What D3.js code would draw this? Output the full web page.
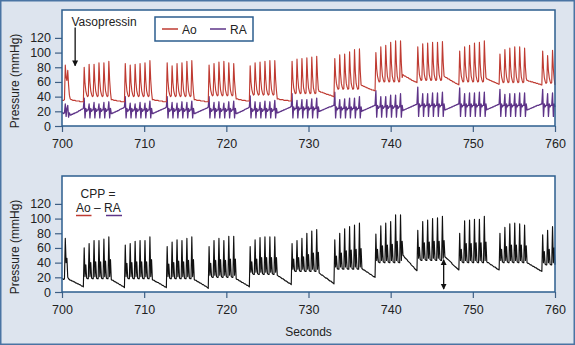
<!DOCTYPE html>
<html>
<head>
<meta charset="utf-8">
<title>Ao, RA and CPP during CPR</title>
<script src="https://d3js.org/d3.v7.min.js"></script>
<style>
  body { margin: 0; background: #fff; }
  svg { display: block; font-family: "Liberation Sans", Arial, Helvetica, sans-serif; }
</style>
</head>
<body>
<svg width="575" height="345"></svg>
<script>
// samples every 0.1 s starting at 700 s
const startTime = 700;
const sampleStep = 0.1;
const xTicks = [700, 710, 720, 730, 740, 750, 760];
const yTicks = [0, 20, 40, 60, 80, 100, 120];

// aortic pressure (mmHg)
const aoValues = [
  35,35,35,36,83,66,62,76,56,42,37, 36,36,35,35,35,35,34,34,34,34,34,33,33,33,33,33,
  80,58,48,43,40,41, 84,60,48,43,40,41, 84,60,48,43,40,41, 86,61,48,43,40,41, 86,61,48,43,40,41, 88,62,46,
  36,36,36,35,35,35,35,34,34,34,34,34,33,33,33,33,33,
  85,60,48,43,40,41, 83,59,48,43,40,41, 84,60,48,43,40,41, 85,60,48,43,40,41, 86,61,48,43,40,41, 89,62,46,
  36,36,36,35,35,35,35,35,34,34,34,34,34,33,33,33,33,33,
  86,61,48,43,40,41, 82,59,48,43,40,41, 85,60,48,43,40,41, 86,61,48,43,40,41, 88,62,48,43,40,41, 89,62,46,
  36,36,36,35,35,35,35,35,34,34,34,34,34,33,33,33,33,33,
  83,60,49,44,41,42, 85,61,49,44,41,42, 87,62,49,44,41,42, 88,62,49,44,41,42, 86,61,49,44,41,42, 85,61,47,
  37,37,37,36,36,36,36,35,35,35,35,35,34,34,34,34,34,
  82,60,50,45,42,43, 86,62,50,45,42,43, 87,62,50,45,42,43, 88,63,50,45,42,43, 89,63,50,45,42,43, 89,63,48,
  37,37,37,36,36,36,36,36,35,35,35,35,35,35,34,34,34,34,
  88,64,52,47,44,45, 91,65,52,47,44,45, 92,66,52,47,44,45, 93,66,52,47,44,45, 94,67,52,47,44,45, 95,67,50,
  47,47,46,46,46,45,45,44,44,43,43,43,42,42,42,41,41,40,40,
  92,69,58,53,50,51, 97,71,58,53,50,51, 98,72,58,53,50,51, 101,73,58,53,50,51, 104,74,58,53,50,51, 105,75,56,
  55,55,54,54,53,53,52,52,51,51,50,50,49,49,49,48,48,
  100,78,68,63,60,61, 108,82,68,63,60,61, 110,83,68,63,60,61, 114,84,68,63,60,61, 116,85,68,63,60,61, 116,85,66,
  70,69,68,68,67,66,66,65,64,64,63,62,62,61,61,60,60,59,
  108,83,70,65,62,63, 112,85,70,65,62,63, 113,85,70,65,62,63, 114,85,70,65,62,63, 114,85,70,65,62,63, 115,86,68,
  67,66,66,65,64,64,63,62,62,61,60,60,59,58,58,57,57,56,
  102,79,68,63,60,61, 108,82,68,63,60,61, 110,83,68,63,60,61, 113,84,68,63,60,61, 114,84,68,63,60,61, 116,85,66,
  64,64,63,63,62,62,61,61,60,60,59,59,58,58,57,57,
  98,77,67,62,59,60, 104,79,67,62,59,60, 106,80,67,62,59,60, 108,81,67,62,59,60, 108,81,67,62,59,60, 106,80,65,
  62,62,61,61,61,60,60,60,59,59,59,58,58,58,57,57,57,56,56,
  102,78,66,61,58,59, 96,75,66,61,58,59, 103,78,64,56
];

// right atrial pressure (mmHg)
const raValues = [
  18,18,17,18,30,13,24,28,12,18,15, 15,16,16,17,17,18,18,19,19,20,21,21,22,23,23,24,
  38,11,24,20,22,22, 30,11,24,20,22,22, 32,11,24,20,22,22, 30,11,24,20,22,22, 32,11,24,20,22,22, 33,11,24,
  17,17,18,18,19,19,20,20,21,21,22,23,23,24,24,25,26,
  40,11,24,20,22,22, 31,11,24,20,22,22, 30,11,24,20,22,22, 32,11,24,20,22,22, 31,11,24,20,22,22, 34,11,24,
  17,17,18,18,19,19,20,20,21,21,22,22,23,23,24,24,25,26,
  40,11,24,20,22,22, 32,11,24,20,22,22, 31,11,24,20,22,22, 33,11,24,20,22,22, 32,11,24,20,22,22, 34,11,24,
  17,17,18,18,19,19,20,20,21,21,22,22,23,23,24,24,25,26,
  40,11,24,20,22,22, 32,11,24,20,22,22, 33,11,24,20,22,22, 31,11,24,20,22,22, 33,11,24,20,22,22, 34,11,24,
  17,17,18,18,19,19,20,20,21,21,22,23,23,24,24,25,26,
  41,11,24,20,22,22, 33,11,24,20,22,22, 32,11,24,20,22,22, 34,11,24,20,22,22, 33,11,24,20,22,22, 35,11,24,
  18,18,19,19,20,20,21,21,22,22,23,23,24,24,25,25,26,27,
  44,11,26,22,24,24, 35,11,26,22,24,24, 36,11,26,22,24,24, 36,11,26,22,24,24, 37,11,26,22,24,24, 38,11,26,
  20,20,21,21,22,22,23,23,24,24,25,25,26,26,26,27,27,28,28,
  46,11,26,22,24,24, 36,11,26,22,24,24, 37,11,26,22,24,24, 38,11,26,22,24,24, 38,11,26,22,24,24, 40,11,26,
  20,21,21,22,22,23,23,24,24,25,25,26,26,27,27,28,28,
  48,12,28,24,26,26, 40,12,28,24,26,26, 40,12,28,24,26,26, 42,12,28,24,26,26, 42,12,28,24,26,26, 44,12,28,
  21,22,22,23,23,24,24,25,25,26,26,27,27,28,28,29,29,30,
  53,13,30,26,28,28, 44,13,30,26,28,28, 44,13,30,26,28,28, 45,13,30,26,28,28, 45,13,30,26,28,28, 46,13,30,
  22,22,23,23,24,24,25,25,26,26,27,27,28,28,29,29,30,30,
  52,13,30,26,28,28, 44,13,30,26,28,28, 45,13,30,26,28,28, 45,13,30,26,28,28, 46,13,30,26,28,28, 46,13,30,
  22,23,23,24,24,25,25,26,26,27,27,28,28,29,29,30,
  50,13,30,26,28,28, 43,13,30,26,28,28, 44,13,30,26,28,28, 44,13,30,26,28,28, 45,13,30,26,28,28, 45,13,30,
  22,22,23,23,24,24,25,25,26,26,27,27,28,28,28,29,29,30,30,
  50,13,30,26,28,28, 44,13,30,26,28,28, 45,13,30,26
];

// coronary perfusion pressure = Ao - RA (mmHg)
const cppValues = [
  18,18,17,18,73,40,46,20,18, 17,16,16,15,15,14,14,13,12,12,11,11,10,10,9,8,8,7,
  60,21,37,19,18,18, 66,21,40,19,18,18, 70,21,41,19,18,18, 70,21,41,19,18,18, 72,21,42,19,18,18, 75,21,44,
  17,16,16,15,14,14,13,12,12,11,10,10,9,8,8,7,6,
  64,21,39,19,18,18, 66,21,40,19,18,18, 69,21,41,19,18,18, 70,21,41,19,18,18, 70,21,41,19,18,18, 75,21,44,
  17,16,16,15,14,14,13,13,12,11,11,10,9,9,8,7,7,6,
  62,21,38,19,18,18, 68,21,40,19,18,18, 71,21,42,19,18,18, 70,21,41,19,18,18, 73,21,43,19,18,18, 75,21,44,
  17,16,16,15,14,14,13,12,12,11,10,10,9,8,8,7,6,5,
  62,23,39,21,20,20, 70,23,43,21,20,20, 73,23,44,21,20,20, 70,23,43,21,20,20, 76,23,45,21,20,20, 76,23,45,
  18,17,17,16,15,15,14,13,13,12,11,11,10,9,9,8,7,
  62,27,41,25,24,24, 71,27,45,25,24,24, 74,27,47,25,24,24, 75,27,47,25,24,24, 75,27,47,25,24,24, 75,27,47,
  23,22,21,21,20,19,18,18,17,16,15,15,14,13,12,12,11,10,
  66,31,45,29,28,28, 70,31,47,29,28,28, 73,31,48,29,28,28, 80,31,51,29,28,28, 83,31,53,29,28,28, 85,31,54,
  26,25,24,23,23,22,21,20,19,19,18,17,16,15,15,14,13,12,11,
  71,34,49,32,31,31, 80,34,53,32,31,31, 86,34,56,32,31,31, 89,34,57,32,31,31, 91,34,58,32,31,31, 94,34,59,
  32,31,30,30,29,28,27,27,26,25,24,24,23,22,21,21,20,
  79,43,58,41,40,40, 90,43,63,41,40,40, 94,43,64,41,40,40, 96,43,65,41,40,40, 105,43,69,41,40,40, 105,43,69,
  50,49,47,46,45,44,42,41,40,39,37,36,35,34,32,31,30,29,
  84,46,61,44,43,43, 96,46,67,44,43,43, 98,46,68,44,43,43, 100,46,69,44,43,43, 101,46,69,44,43,43, 103,46,70,
  48,47,46,45,44,43,42,41,40,38,37,36,35,34,33,32,31,30,
  80,43,58,41,40,40, 97,43,66,41,40,40, 98,43,66,41,40,40, 99,43,67,41,40,40, 99,43,67,41,40,40, 103,43,68,
  41,40,40,39,38,37,37,36,35,34,34,33,32,31,31,30,
  80,43,58,41,40,40, 88,43,62,41,40,40, 93,43,64,41,40,40, 94,43,64,41,40,40, 93,43,64,41,40,40, 91,43,63,
  40,39,39,38,37,37,36,35,35,34,33,33,32,31,31,30,29,29,28,
  78,40,55,38,37,37, 84,40,58,38,37,37, 89,40,60,37
];

// annotations: [time, arrow start, arrow end] in mmHg
const vasopressinMark = [701.6, 134, 82];
const cppGapMark = [746.45, 44, 4];

const aoColor = "#bf3b32";
const raColor = "#5e3488";
const frameColor = "#2d5e8e";

const svg = d3.select("svg");
const width = +svg.attr("width");
const height = +svg.attr("height");

svg.append("rect")
  .attr("x", 0.75).attr("y", 0.75)
  .attr("width", width - 1.5).attr("height", height - 1.5)
  .attr("fill", "#dde4ee")
  .attr("stroke", "#4a74a3")
  .attr("stroke-width", 1.5);

const defs = svg.append("defs");
defs.append("marker")
  .attr("id", "head")
  .attr("viewBox", "0 0 10 10")
  .attr("refX", 9).attr("refY", 5)
  .attr("markerWidth", 6).attr("markerHeight", 8)
  .attr("markerUnits", "userSpaceOnUse")
  .attr("orient", "auto-start-reverse")
  .append("path")
    .attr("d", "M0,0L10,5L0,10Z")
    .attr("fill", "#111");

const xScale = d3.scaleLinear().domain([700, 760]).range([62, 555]);
const panels = [
  {top: 10, bottom: 126},
  {top: 176, bottom: 292}
];

const sampleX = (d, i) => xScale(startTime + i * sampleStep);

function drawPanel(p) {
  const yScale = d3.scaleLinear().domain([0, 158]).range([p.bottom, p.top]);
  const g = svg.append("g");

  g.append("rect")
    .attr("x", xScale.range()[0]).attr("y", p.top)
    .attr("width", xScale.range()[1] - xScale.range()[0])
    .attr("height", p.bottom - p.top)
    .attr("fill", "#fff");

  const xAxis = g.append("g")
    .attr("transform", `translate(0,${p.bottom})`)
    .call(d3.axisBottom(xScale).tickValues(xTicks).tickSize(6).tickPadding(7));
  const yAxis = g.append("g")
    .attr("transform", `translate(${xScale.range()[0]},0)`)
    .call(d3.axisLeft(yScale).tickValues(yTicks).tickSize(7).tickPadding(4));
  [xAxis, yAxis].forEach(a => {
    a.select(".domain").remove();
    a.selectAll("line").attr("stroke", "#3f5f84").attr("stroke-width", 1.2);
    a.selectAll("text")
      .attr("fill", "#222")
      .style("font-size", "12.5px")
      .style("font-family", "\"Liberation Sans\", Arial, sans-serif");
  });

  g.append("text")
    .attr("transform", `translate(19,${(p.top + p.bottom) / 2 + 13}) rotate(-90)`)
    .attr("text-anchor", "middle")
    .attr("fill", "#222")
    .style("font-size", "12px")
    .text("Pressure (mmHg)");

  return {g, yScale};
}

function trace(panel, values, color, w) {
  const line = d3.line().x(sampleX).y(d => panel.yScale(d));
  panel.g.append("path")
    .datum(values)
    .attr("fill", "none")
    .attr("stroke", color)
    .attr("stroke-width", w)
    .attr("stroke-linejoin", "round")
    .attr("d", line);
}

function frame(panel, p) {
  panel.g.append("rect")
    .attr("x", xScale.range()[0]).attr("y", p.top)
    .attr("width", xScale.range()[1] - xScale.range()[0])
    .attr("height", p.bottom - p.top)
    .attr("fill", "none")
    .attr("stroke", frameColor)
    .attr("stroke-width", 1.5);
}

// top panel: Ao and RA
const topPanel = drawPanel(panels[0]);
trace(topPanel, raValues, raColor, 1.3);
trace(topPanel, aoValues, aoColor, 1.15);
frame(topPanel, panels[0]);

const legend = topPanel.g.append("g").attr("transform", "translate(155,17)");
legend.append("rect")
  .attr("width", 98).attr("height", 24)
  .attr("fill", "#fff")
  .attr("stroke", frameColor)
  .attr("stroke-width", 1.5);
[["Ao", aoColor, 7], ["RA", raColor, 55]].forEach(([label, color, x0]) => {
  legend.append("line")
    .attr("x1", x0).attr("x2", x0 + 16)
    .attr("y1", 12).attr("y2", 12)
    .attr("stroke", color).attr("stroke-width", 1.5);
  legend.append("text")
    .attr("x", x0 + 20).attr("y", 16.5)
    .attr("fill", "#222")
    .style("font-size", "12px")
    .text(label);
});

topPanel.g.append("text")
  .attr("x", 71.5).attr("y", 26)
  .attr("fill", "#222")
  .style("font-size", "12px")
  .text("Vasopressin");
topPanel.g.append("line")
  .attr("x1", xScale(vasopressinMark[0])).attr("x2", xScale(vasopressinMark[0]))
  .attr("y1", topPanel.yScale(vasopressinMark[1])).attr("y2", topPanel.yScale(vasopressinMark[2]))
  .attr("stroke", "#111").attr("stroke-width", 1.3)
  .attr("marker-end", "url(#head)");

// bottom panel: CPP
const bottomPanel = drawPanel(panels[1]);
trace(bottomPanel, cppValues, "#111", 1.15);
frame(bottomPanel, panels[1]);

bottomPanel.g.append("line")
  .attr("x1", xScale(cppGapMark[0])).attr("x2", xScale(cppGapMark[0]))
  .attr("y1", bottomPanel.yScale(cppGapMark[1])).attr("y2", bottomPanel.yScale(cppGapMark[2]))
  .attr("stroke", "#111").attr("stroke-width", 1.3)
  .attr("marker-start", "url(#head)")
  .attr("marker-end", "url(#head)");

bottomPanel.g.append("text")
  .attr("x", 98).attr("y", 198)
  .attr("text-anchor", "middle")
  .attr("fill", "#222")
  .style("font-size", "12px")
  .text("CPP =");
bottomPanel.g.append("text")
  .attr("x", 76).attr("y", 212)
  .attr("fill", "#222")
  .style("font-size", "12px")
  .text("Ao \u2013 RA");
[[76, 91.5, aoColor], [106, 122, raColor]].forEach(([a, b, color]) => {
  bottomPanel.g.append("line")
    .attr("x1", a).attr("x2", b)
    .attr("y1", 215.5).attr("y2", 215.5)
    .attr("stroke", color).attr("stroke-width", 1.5);
});

svg.append("text")
  .attr("x", (xScale.range()[0] + xScale.range()[1]) / 2)
  .attr("y", 336)
  .attr("text-anchor", "middle")
  .attr("fill", "#222")
  .style("font-size", "12px")
  .text("Seconds");
</script>
</body>
</html>
